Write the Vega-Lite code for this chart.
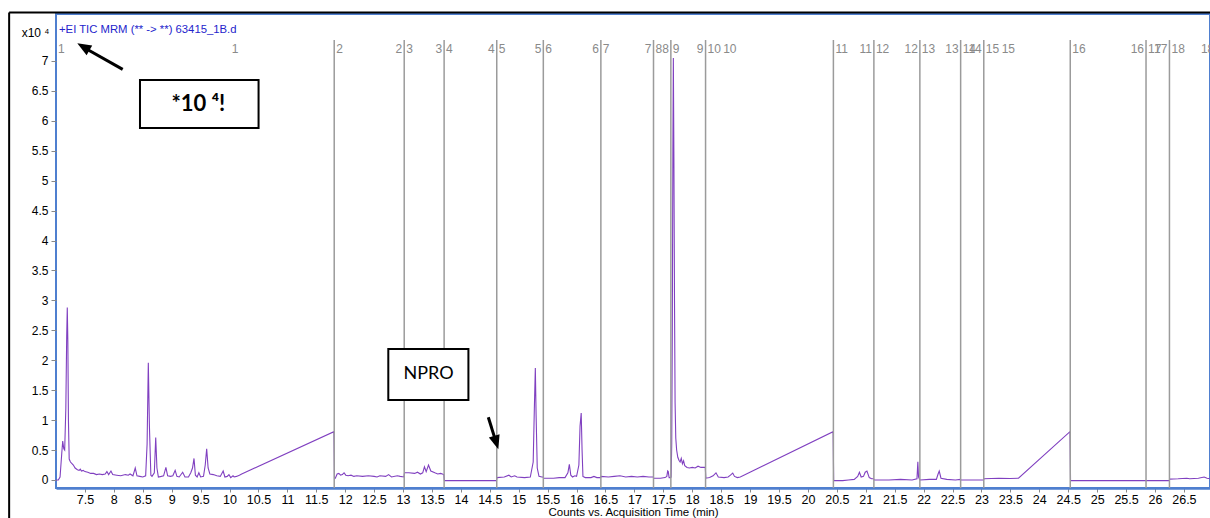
{
  "$schema": "https://vega.github.io/schema/vega-lite/v6.json",
  "width": 1154,
  "height": 474,
  "autosize": {"type": "none"},
  "padding": {"left": 56, "top": 14, "right": 0, "bottom": 30},
  "background": "white",
  "config": {
    "view": {"stroke": "#4f7fcf", "strokeWidth": 2},
    "font": "Liberation Sans, Arial, sans-serif"
  },
  "datasets": {
    "one": [{}],
    "trace": [
      {"t": 7.0, "v": 0.0}, {"t": 7.04, "v": 0.0}, {"t": 7.07, "v": 0.05}, {"t": 7.1, "v": 0.45},
      {"t": 7.116, "v": 0.65}, {"t": 7.135, "v": 0.52}, {"t": 7.15, "v": 0.5}, {"t": 7.17, "v": 1.2},
      {"t": 7.185, "v": 2.4}, {"t": 7.195, "v": 2.88}, {"t": 7.205, "v": 2.3}, {"t": 7.215, "v": 1.0},
      {"t": 7.228, "v": 0.35}, {"t": 7.25, "v": 0.3}, {"t": 7.28, "v": 0.27}, {"t": 7.3, "v": 0.25},
      {"t": 7.33, "v": 0.2}, {"t": 7.37, "v": 0.17}, {"t": 7.4, "v": 0.16}, {"t": 7.42, "v": 0.18},
      {"t": 7.44, "v": 0.15}, {"t": 7.47, "v": 0.16}, {"t": 7.5, "v": 0.14}, {"t": 7.55, "v": 0.13},
      {"t": 7.6, "v": 0.11}, {"t": 7.65, "v": 0.11}, {"t": 7.7, "v": 0.09}, {"t": 7.75, "v": 0.1},
      {"t": 7.8, "v": 0.09}, {"t": 7.85, "v": 0.1}, {"t": 7.88, "v": 0.14}, {"t": 7.91, "v": 0.09},
      {"t": 7.95, "v": 0.15}, {"t": 7.98, "v": 0.09}, {"t": 8.05, "v": 0.08}, {"t": 8.12, "v": 0.07},
      {"t": 8.2, "v": 0.09}, {"t": 8.25, "v": 0.08}, {"t": 8.28, "v": 0.1}, {"t": 8.33, "v": 0.07},
      {"t": 8.37, "v": 0.2}, {"t": 8.4, "v": 0.07}, {"t": 8.45, "v": 0.06}, {"t": 8.5, "v": 0.05},
      {"t": 8.55, "v": 0.07}, {"t": 8.575, "v": 0.6}, {"t": 8.596, "v": 1.96}, {"t": 8.615, "v": 0.9},
      {"t": 8.64, "v": 0.08}, {"t": 8.66, "v": 0.06}, {"t": 8.7, "v": 0.12}, {"t": 8.724, "v": 0.71},
      {"t": 8.745, "v": 0.2}, {"t": 8.77, "v": 0.05}, {"t": 8.82, "v": 0.06}, {"t": 8.86, "v": 0.07},
      {"t": 8.9, "v": 0.21}, {"t": 8.93, "v": 0.07}, {"t": 8.98, "v": 0.06}, {"t": 9.02, "v": 0.07},
      {"t": 9.06, "v": 0.16}, {"t": 9.09, "v": 0.06}, {"t": 9.13, "v": 0.05}, {"t": 9.19, "v": 0.13},
      {"t": 9.23, "v": 0.05}, {"t": 9.29, "v": 0.05}, {"t": 9.33, "v": 0.12}, {"t": 9.36, "v": 0.2},
      {"t": 9.386, "v": 0.36}, {"t": 9.41, "v": 0.08}, {"t": 9.44, "v": 0.05}, {"t": 9.47, "v": 0.12},
      {"t": 9.5, "v": 0.05}, {"t": 9.55, "v": 0.06}, {"t": 9.58, "v": 0.25}, {"t": 9.605, "v": 0.52},
      {"t": 9.63, "v": 0.2}, {"t": 9.66, "v": 0.1}, {"t": 9.72, "v": 0.09}, {"t": 9.78, "v": 0.07},
      {"t": 9.84, "v": 0.06}, {"t": 9.89, "v": 0.15}, {"t": 9.92, "v": 0.05}, {"t": 9.96, "v": 0.06},
      {"t": 9.99, "v": 0.09}, {"t": 10.02, "v": 0.04}, {"t": 10.06, "v": 0.07}, {"t": 10.08, "v": 0.05},
      {"t": 10.12, "v": 0.06}, {"t": 10.17, "v": 0.08}, {"t": 10.21, "v": 0.1}, {"t": 11.805, "v": 0.807},
      {"t": 11.815, "v": 0.02}, {"t": 11.83, "v": 0.03}, {"t": 11.86, "v": 0.1}, {"t": 11.89, "v": 0.11},
      {"t": 11.92, "v": 0.08}, {"t": 11.95, "v": 0.09}, {"t": 11.98, "v": 0.12}, {"t": 12.01, "v": 0.08},
      {"t": 12.05, "v": 0.07}, {"t": 12.1, "v": 0.08}, {"t": 12.15, "v": 0.06}, {"t": 12.2, "v": 0.07},
      {"t": 12.3, "v": 0.06}, {"t": 12.4, "v": 0.07}, {"t": 12.5, "v": 0.06}, {"t": 12.55, "v": 0.05},
      {"t": 12.6, "v": 0.07}, {"t": 12.7, "v": 0.06}, {"t": 12.75, "v": 0.09}, {"t": 12.8, "v": 0.05},
      {"t": 12.9, "v": 0.07}, {"t": 12.95, "v": 0.06}, {"t": 13.015, "v": 0.05},
      {"t": 13.025, "v": 0.12}, {"t": 13.1, "v": 0.12}, {"t": 13.2, "v": 0.11}, {"t": 13.25, "v": 0.13},
      {"t": 13.3, "v": 0.1}, {"t": 13.34, "v": 0.12}, {"t": 13.37, "v": 0.22}, {"t": 13.4, "v": 0.14},
      {"t": 13.44, "v": 0.25}, {"t": 13.48, "v": 0.15}, {"t": 13.55, "v": 0.12}, {"t": 13.6, "v": 0.1},
      {"t": 13.65, "v": 0.11}, {"t": 13.705, "v": 0.09},
      {"t": 13.715, "v": -0.01}, {"t": 14.0, "v": -0.01}, {"t": 14.3, "v": -0.01}, {"t": 14.615, "v": -0.01},
      {"t": 14.625, "v": 0.04}, {"t": 14.75, "v": 0.05}, {"t": 14.83, "v": 0.08}, {"t": 14.87, "v": 0.05},
      {"t": 14.93, "v": 0.07}, {"t": 14.97, "v": 0.05}, {"t": 15.1, "v": 0.04}, {"t": 15.2, "v": 0.05},
      {"t": 15.25, "v": 0.3}, {"t": 15.27, "v": 1.2}, {"t": 15.287, "v": 1.87}, {"t": 15.3, "v": 1.1},
      {"t": 15.32, "v": 0.2}, {"t": 15.35, "v": 0.06}, {"t": 15.4, "v": 0.05}, {"t": 15.42, "v": 0.05},
      {"t": 15.43, "v": 0.03}, {"t": 15.6, "v": 0.03}, {"t": 15.7, "v": 0.04}, {"t": 15.8, "v": 0.04},
      {"t": 15.85, "v": 0.12}, {"t": 15.875, "v": 0.26}, {"t": 15.9, "v": 0.08}, {"t": 15.93, "v": 0.05},
      {"t": 15.97, "v": 0.07}, {"t": 16.0, "v": 0.06}, {"t": 16.04, "v": 0.25}, {"t": 16.06, "v": 0.9},
      {"t": 16.08, "v": 1.12}, {"t": 16.095, "v": 0.5}, {"t": 16.11, "v": 0.06}, {"t": 16.15, "v": 0.04},
      {"t": 16.25, "v": 0.04}, {"t": 16.3, "v": 0.06}, {"t": 16.35, "v": 0.04}, {"t": 16.415, "v": 0.04},
      {"t": 16.425, "v": 0.06}, {"t": 16.55, "v": 0.05}, {"t": 16.65, "v": 0.06}, {"t": 16.75, "v": 0.07},
      {"t": 16.85, "v": 0.05}, {"t": 16.95, "v": 0.06}, {"t": 17.05, "v": 0.05}, {"t": 17.15, "v": 0.06},
      {"t": 17.25, "v": 0.05}, {"t": 17.325, "v": 0.05},
      {"t": 17.335, "v": 0.03}, {"t": 17.45, "v": 0.03}, {"t": 17.53, "v": 0.04}, {"t": 17.56, "v": 0.06},
      {"t": 17.575, "v": 0.15}, {"t": 17.585, "v": 0.14}, {"t": 17.6, "v": 0.04}, {"t": 17.625, "v": 0.04},
      {"t": 17.635, "v": 0.05}, {"t": 17.645, "v": 0.6}, {"t": 17.655, "v": 2.5}, {"t": 17.665, "v": 5.5},
      {"t": 17.673, "v": 7.05}, {"t": 17.683, "v": 5.3}, {"t": 17.693, "v": 3.0}, {"t": 17.703, "v": 1.3},
      {"t": 17.715, "v": 0.7}, {"t": 17.73, "v": 0.5}, {"t": 17.75, "v": 0.38}, {"t": 17.77, "v": 0.33},
      {"t": 17.79, "v": 0.3}, {"t": 17.81, "v": 0.36}, {"t": 17.83, "v": 0.27}, {"t": 17.85, "v": 0.32},
      {"t": 17.87, "v": 0.24}, {"t": 17.91, "v": 0.21}, {"t": 17.95, "v": 0.2}, {"t": 18.0, "v": 0.21},
      {"t": 18.05, "v": 0.2}, {"t": 18.1, "v": 0.23}, {"t": 18.15, "v": 0.21}, {"t": 18.225, "v": 0.21},
      {"t": 18.235, "v": 0.03}, {"t": 18.3, "v": 0.04}, {"t": 18.36, "v": 0.07}, {"t": 18.41, "v": 0.12},
      {"t": 18.45, "v": 0.05}, {"t": 18.55, "v": 0.04}, {"t": 18.62, "v": 0.05}, {"t": 18.66, "v": 0.08},
      {"t": 18.7, "v": 0.115}, {"t": 18.73, "v": 0.06}, {"t": 18.78, "v": 0.04}, {"t": 18.83, "v": 0.05},
      {"t": 20.435, "v": 0.807},
      {"t": 20.445, "v": -0.01}, {"t": 20.6, "v": -0.01}, {"t": 20.7, "v": 0.0}, {"t": 20.8, "v": 0.01},
      {"t": 20.86, "v": 0.06}, {"t": 20.89, "v": 0.128}, {"t": 20.92, "v": 0.05}, {"t": 20.96, "v": 0.06},
      {"t": 20.99, "v": 0.13}, {"t": 21.02, "v": 0.15}, {"t": 21.06, "v": 0.04}, {"t": 21.1, "v": 0.02},
      {"t": 21.135, "v": 0.02},
      {"t": 21.145, "v": 0.0}, {"t": 21.4, "v": 0.0}, {"t": 21.6, "v": 0.01}, {"t": 21.8, "v": 0.0},
      {"t": 21.885, "v": 0.02}, {"t": 21.9, "v": 0.306}, {"t": 21.912, "v": 0.05}, {"t": 21.93, "v": 0.01},
      {"t": 21.94, "v": 0.0}, {"t": 22.1, "v": 0.01}, {"t": 22.22, "v": 0.01}, {"t": 22.25, "v": 0.1},
      {"t": 22.27, "v": 0.15}, {"t": 22.3, "v": 0.03}, {"t": 22.4, "v": 0.01}, {"t": 22.55, "v": 0.0},
      {"t": 22.635, "v": 0.01},
      {"t": 22.645, "v": 0.0}, {"t": 22.85, "v": 0.0}, {"t": 23.035, "v": 0.0},
      {"t": 23.045, "v": 0.02}, {"t": 23.3, "v": 0.03}, {"t": 23.5, "v": 0.025}, {"t": 23.64, "v": 0.03},
      {"t": 24.53, "v": 0.807},
      {"t": 24.54, "v": -0.01}, {"t": 25.2, "v": -0.01}, {"t": 25.84, "v": -0.01},
      {"t": 25.85, "v": -0.01}, {"t": 26.245, "v": -0.01},
      {"t": 26.255, "v": 0.015}, {"t": 26.4, "v": 0.02}, {"t": 26.55, "v": 0.03}, {"t": 26.6, "v": 0.02},
      {"t": 26.75, "v": 0.03}, {"t": 26.85, "v": 0.05}, {"t": 26.9, "v": 0.03}, {"t": 26.95, "v": 0.02}
    ],
    "bounds": [
      {"t": 11.81}, {"t": 13.02}, {"t": 13.71}, {"t": 14.62}, {"t": 15.425}, {"t": 16.42},
      {"t": 17.33}, {"t": 17.63}, {"t": 18.23}, {"t": 20.44}, {"t": 21.14}, {"t": 21.935},
      {"t": 22.64}, {"t": 23.04}, {"t": 24.535}, {"t": 25.845}, {"t": 26.25}
    ],
    "labels": [
      {"seg": "1", "t": 7.0, "side": "start"}, {"seg": "2", "t": 11.81, "side": "start"},
      {"seg": "3", "t": 13.02, "side": "start"}, {"seg": "4", "t": 13.71, "side": "start"},
      {"seg": "5", "t": 14.62, "side": "start"}, {"seg": "6", "t": 15.425, "side": "start"},
      {"seg": "7", "t": 16.42, "side": "start"}, {"seg": "8", "t": 17.33, "side": "start"},
      {"seg": "9", "t": 17.63, "side": "start"}, {"seg": "10", "t": 18.23, "side": "start"},
      {"seg": "11", "t": 20.44, "side": "start"}, {"seg": "12", "t": 21.14, "side": "start"},
      {"seg": "13", "t": 21.935, "side": "start"}, {"seg": "14", "t": 22.64, "side": "start"},
      {"seg": "15", "t": 23.04, "side": "start"}, {"seg": "16", "t": 24.535, "side": "start"},
      {"seg": "17", "t": 25.845, "side": "start"}, {"seg": "18", "t": 26.25, "side": "start"},
      {"seg": "1", "t": 10.19, "side": "end"}, {"seg": "2", "t": 13.02, "side": "end"},
      {"seg": "3", "t": 13.71, "side": "end"}, {"seg": "4", "t": 14.62, "side": "end"},
      {"seg": "5", "t": 15.425, "side": "end"}, {"seg": "6", "t": 16.42, "side": "end"},
      {"seg": "7", "t": 17.33, "side": "end"}, {"seg": "8", "t": 17.63, "side": "end"},
      {"seg": "9", "t": 18.23, "side": "end"}, {"seg": "10", "t": 18.8, "side": "end"},
      {"seg": "11", "t": 21.14, "side": "end"}, {"seg": "12", "t": 21.935, "side": "end"},
      {"seg": "13", "t": 22.64, "side": "end"}, {"seg": "14", "t": 23.04, "side": "end"},
      {"seg": "15", "t": 23.615, "side": "end"}, {"seg": "16", "t": 25.845, "side": "end"},
      {"seg": "17", "t": 26.25, "side": "end"}, {"seg": "18", "t": 27.06, "side": "end"}
    ]
  },
  "layer": [
    {
      "data": {"name": "trace"},
      "mark": {"type": "line", "color": "#8040c0", "strokeWidth": 1.1},
      "encoding": {
        "x": {
          "field": "t", "type": "quantitative",
          "scale": {"domain": [7, 26.951], "nice": false, "zero": false},
          "axis": {
            "title": "Counts vs. Acquisition Time (min)",
            "values": [7.5, 8, 8.5, 9, 9.5, 10, 10.5, 11, 11.5, 12, 12.5, 13, 13.5, 14, 14.5, 15, 15.5, 16, 16.5, 17, 17.5, 18, 18.5, 19, 19.5, 20, 20.5, 21, 21.5, 22, 22.5, 23, 23.5, 24, 24.5, 25, 25.5, 26, 26.5],
            "tickCount": 200,
            "format": ".1~f",
            "grid": false,
            "domainColor": "#4f7fcf", "domainWidth": 2.5,
            "tickColor": "#888888", "tickSize": 4,
            "labelFont": "Liberation Sans", "labelFontSize": 12.5, "labelColor": "black", "labelPadding": 1,
            "labelFlush": false, "labelOverlap": false,
            "titleFont": "Liberation Sans", "titleFontSize": 11.5, "titleFontWeight": "normal", "titleColor": "black", "titlePadding": 1
          }
        },
        "y": {
          "field": "v", "type": "quantitative",
          "scale": {"domain": [-0.134, 7.785], "nice": false, "zero": false},
          "axis": {
            "title": "x10 ⁴",
            "titleAngle": 0, "titleAlign": "right", "titleBaseline": "alphabetic",
            "titleX": -7, "titleY": 22,
            "titleFont": "Liberation Sans", "titleFontSize": 12, "titleFontWeight": "normal", "titleColor": "black",
            "values": [0, 0.5, 1, 1.5, 2, 2.5, 3, 3.5, 4, 4.5, 5, 5.5, 6, 6.5, 7],
            "tickCount": 200,
            "format": ".1~f",
            "grid": false, "domain": false,
            "tickColor": "#888888", "tickSize": 5,
            "labelFont": "Liberation Sans", "labelFontSize": 12, "labelColor": "black", "labelPadding": 3,
            "labelOverlap": false
          }
        }
      }
    },
    {
      "data": {"name": "one"},
      "mark": {"type": "rule", "color": "black", "strokeWidth": 2},
      "encoding": {
        "x": {"datum": 6.19, "type": "quantitative"},
        "y": {"datum": 7.81, "type": "quantitative"},
        "y2": {"datum": -0.7}
      }
    },
    {
      "data": {"name": "one"},
      "mark": {"type": "rule", "color": "black", "strokeWidth": 2},
      "encoding": {
        "x": {"datum": 6.19, "type": "quantitative"},
        "x2": {"datum": 27.2},
        "y": {"datum": 7.81, "type": "quantitative"}
      }
    },
    {
      "data": {"name": "bounds"},
      "mark": {"type": "rule", "color": "#9b9b9b", "strokeWidth": 1.5},
      "encoding": {
        "x": {"field": "t", "type": "quantitative"},
        "y": {"datum": 7.35, "type": "quantitative"},
        "y2": {"datum": -0.134}
      }
    },
    {
      "data": {"name": "labels"},
      "transform": [{"filter": "datum.side == 'start'"}],
      "mark": {"type": "text", "align": "left", "baseline": "alphabetic", "dx": 2, "fontSize": 12, "color": "#8a8a8a"},
      "encoding": {
        "x": {"field": "t", "type": "quantitative"},
        "y": {"datum": 7.134, "type": "quantitative"},
        "text": {"field": "seg"}
      }
    },
    {
      "data": {"name": "labels"},
      "transform": [{"filter": "datum.side == 'end'"}],
      "mark": {"type": "text", "align": "right", "baseline": "alphabetic", "dx": -2, "fontSize": 12, "color": "#8a8a8a"},
      "encoding": {
        "x": {"field": "t", "type": "quantitative"},
        "y": {"datum": 7.134, "type": "quantitative"},
        "text": {"field": "seg"}
      }
    },
    {
      "data": {"name": "one"},
      "mark": {"type": "text", "align": "left", "baseline": "alphabetic", "dx": 3, "fontSize": 11.3, "color": "#2424cc", "text": "+EI TIC MRM (** -> **) 63415_1B.d"},
      "encoding": {
        "x": {"datum": 7.0, "type": "quantitative"},
        "y": {"datum": 7.468, "type": "quantitative"}
      }
    },
    {
      "data": {"name": "one"},
      "mark": {"type": "rect", "fill": "white", "stroke": "black", "strokeWidth": 2},
      "encoding": {
        "x": {"datum": 8.452, "type": "quantitative"},
        "x2": {"datum": 10.502},
        "y": {"datum": 6.683, "type": "quantitative"},
        "y2": {"datum": 5.881}
      }
    },
    {
      "data": {"name": "one"},
      "mark": {"type": "text", "align": "center", "baseline": "middle", "font": "Lato, Open Sans, sans-serif", "fontWeight": "bold", "fontSize": 22, "color": "black", "text": "*10 ⁴!"},
      "encoding": {
        "x": {"datum": 9.46, "type": "quantitative"},
        "y": {"datum": 6.28, "type": "quantitative"}
      }
    },
    {
      "data": {"name": "one"},
      "mark": {"type": "rect", "fill": "white", "stroke": "black", "strokeWidth": 2},
      "encoding": {
        "x": {"datum": 12.745, "type": "quantitative"},
        "x2": {"datum": 14.13},
        "y": {"datum": 2.188, "type": "quantitative"},
        "y2": {"datum": 1.337}
      }
    },
    {
      "data": {"name": "one"},
      "mark": {"type": "text", "align": "center", "baseline": "middle", "font": "Lato, Open Sans, sans-serif", "fontSize": 18, "color": "black", "text": "NPRO"},
      "encoding": {
        "x": {"datum": 13.44, "type": "quantitative"},
        "y": {"datum": 1.77, "type": "quantitative"}
      }
    },
    {
      "data": {"name": "one"},
      "mark": {"type": "rule", "color": "black", "strokeWidth": 3},
      "encoding": {
        "x": {"datum": 8.153, "type": "quantitative"},
        "x2": {"datum": 7.49},
        "y": {"datum": 6.86, "type": "quantitative"},
        "y2": {"datum": 7.222}
      }
    },
    {
      "data": {"name": "one"},
      "mark": {"type": "point", "shape": "M0,0L0.8,2L-0.8,2Z", "size": 196, "angle": 300, "filled": true, "color": "black", "opacity": 1},
      "encoding": {
        "x": {"datum": 7.368, "type": "quantitative"},
        "y": {"datum": 7.295, "type": "quantitative"}
      }
    },
    {
      "data": {"name": "one"},
      "mark": {"type": "rule", "color": "black", "strokeWidth": 3},
      "encoding": {
        "x": {"datum": 14.474, "type": "quantitative"},
        "x2": {"datum": 14.605},
        "y": {"datum": 1.047, "type": "quantitative"},
        "y2": {"datum": 0.64}
      }
    },
    {
      "data": {"name": "one"},
      "mark": {"type": "point", "shape": "M0,0L0.8,2L-0.8,2Z", "size": 196, "angle": 163, "filled": true, "color": "black", "opacity": 1},
      "encoding": {
        "x": {"datum": 14.647, "type": "quantitative"},
        "y": {"datum": 0.513, "type": "quantitative"}
      }
    }
  ]
}
